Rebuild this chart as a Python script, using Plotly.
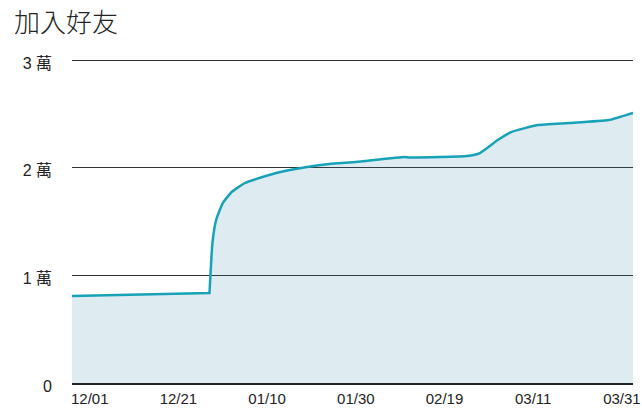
import plotly.graph_objects as go

dates = ["2020-11-27", "2020-12-28", "2020-12-28", "2020-12-28 16:00", "2020-12-29 12:00",
         "2020-12-31", "2021-01-02", "2021-01-05", "2021-01-12", "2021-01-19", "2021-01-24",
         "2021-01-30", "2021-02-10", "2021-02-11", "2021-02-18", "2021-02-24", "2021-02-27",
         "2021-03-03", "2021-03-06", "2021-03-12", "2021-03-19", "2021-03-28", "2021-04-02 12:00"]
friends = [8080, 8360, 8360, 13000, 15140,
           16720, 17740, 18580, 19510, 20060, 20340,
           20530, 20990, 20950, 20990, 21080, 21360,
           22570, 23310, 23960, 24150, 24430, 25100]

tick_vals = [0, 10000, 20000, 30000]
tick_text = ["0", "1 萬", "2 萬", "3 萬"]
x_ticks = ["2020-12-01", "2020-12-21", "2021-01-10", "2021-01-30",
           "2021-02-19", "2021-03-11", "2021-03-31"]

fig = go.Figure()
fig.add_trace(go.Scatter(
    x=dates, y=friends, mode="lines",
    line=dict(color="#17a2b8", width=2.5, shape="spline", smoothing=0.4),
    fill="tozeroy", fillcolor="rgba(35,122,162,0.15)",
    hoverinfo="skip", showlegend=False,
))

fig.update_layout(
    width=642, height=414,
    margin=dict(l=72, r=9, t=59, b=31, autoexpand=False),
    paper_bgcolor="white", plot_bgcolor="white",
    font=dict(family="Liberation Sans, Arial, sans-serif", size=15, color="#222"),
    title=dict(text="加入好友", x=14/642, xref="container", y=1 - 23/414, yref="container",
               xanchor="left", yanchor="middle",
               font=dict(family="Noto Sans CJK TC, sans-serif", size=26, color="#222", weight=300),
               pad=dict(l=0)),
)

fig.update_xaxes(
    type="date", range=["2020-11-27", "2021-04-02 12:00"],
    tickvals=x_ticks, tickformat="%m/%d",
    showgrid=False, showline=True, linecolor="#222", linewidth=1.5,
    ticks="", ticklabelstandoff=1, zeroline=False, automargin=False,
    tickfont=dict(size=15, color="#222"),
)
fig.update_yaxes(
    range=[0, 30100], tickvals=tick_vals, ticktext=tick_text,
    showgrid=True, gridcolor="#333", gridwidth=1, layer="above traces",
    zeroline=False, showline=False, ticks="", ticklabelstandoff=19, automargin=False,
    ticklabelshift=3,
    tickfont=dict(family="Liberation Sans, Noto Sans CJK TC, sans-serif", size=16, color="#222"),
)

fig.write_html("out.html", config={"displayModeBar": False},
               post_script="document.body.style.margin='0';document.body.style.overflow='hidden';")
